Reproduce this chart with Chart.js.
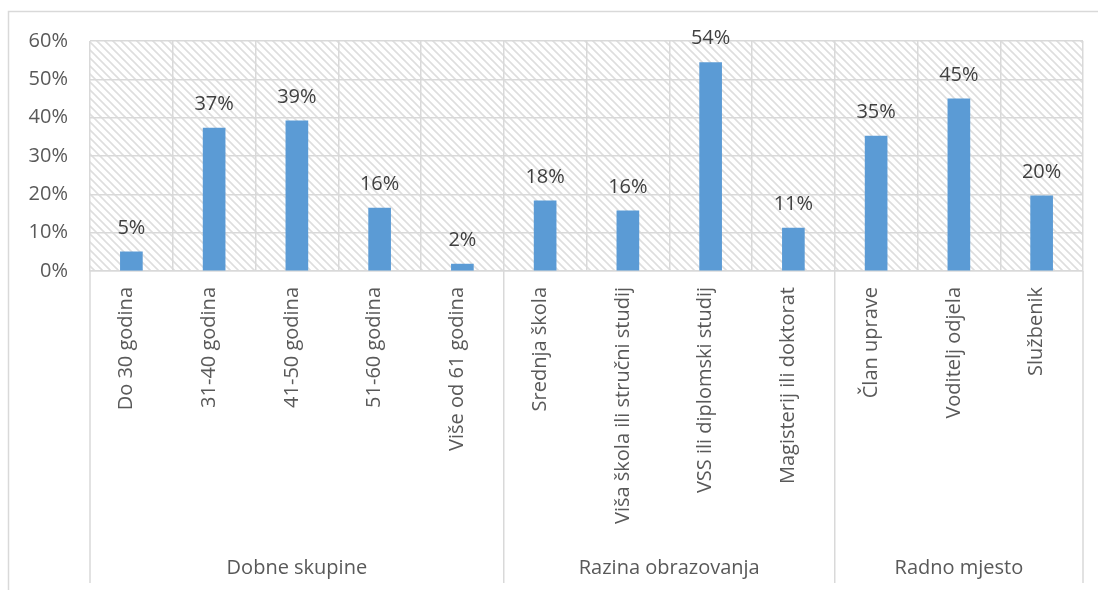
<!DOCTYPE html>
<html>
<head>
<meta charset="utf-8">
<script src="https://cdn.jsdelivr.net/npm/chart.js@4.4.0/dist/chart.umd.min.js"></script>
<style>
  html, body { margin: 0; padding: 0; background: #fff; }
</style>
</head>
<body>
<canvas id="grafikon" width="1098" height="590"></canvas>
<script>
// podaci
const kategorije = [
  'Do 30 godina', '31-40 godina', '41-50 godina', '51-60 godina', 'Više od 61 godina',
  'Srednja škola', 'Viša škola ili stručni studij', 'VSS ili diplomski studij', 'Magisterij ili doktorat',
  'Član uprave', 'Voditelj odjela', 'Službenik'
];
const vrijednosti = [5.0, 37.3, 39.2, 16.4, 1.8, 18.3, 15.7, 54.4, 11.2, 35.2, 44.9, 19.6];
const grupe = ['Dobne skupine', 'Razina obrazovanja', 'Radno mjesto'];
const grupeBroj = [5, 4, 3];
const yTicks = [0, 10, 20, 30, 40, 50, 60];

const font = 'Open Sans';
const velicina = 20;
const sivaLinija = '#d9d9d9';

// srafura u pozadini
function napraviUzorak(ctx) {
  var n = 8;
  var c = document.createElement('canvas');
  c.width = n; c.height = n;
  var g = c.getContext('2d');
  g.fillStyle = '#fff';
  g.fillRect(0, 0, n, n);
  g.strokeStyle = '#dedede';
  g.lineWidth = 1.6;
  g.beginPath();
  g.moveTo(-1, -1); g.lineTo(n + 1, n + 1);
  g.moveTo(-2, n - 2); g.lineTo(2, n + 2);
  g.moveTo(n - 2, -2); g.lineTo(n + 2, 2);
  g.stroke();
  return ctx.createPattern(c, 'repeat');
}

const pozadina = {
  id: 'pozadina',
  beforeDraw(chart) {
    const ctx = chart.ctx, a = chart.chartArea;
    ctx.save();
    ctx.fillStyle = '#fff';
    ctx.fillRect(0, 0, chart.width, chart.height);
    ctx.strokeStyle = sivaLinija;
    ctx.lineWidth = 1.5;
    ctx.strokeRect(8.5, 11.5, chart.width + 10, chart.height + 10);
    ctx.fillStyle = napraviUzorak(ctx);
    ctx.fillRect(a.left, a.top, a.right - a.left, a.bottom - a.top);
    ctx.restore();
  }
};

const oznakeVrijednosti = {
  id: 'oznakeVrijednosti',
  afterDatasetsDraw(chart) {
    const ctx = chart.ctx;
    const meta = chart.getDatasetMeta(0);
    ctx.save();
    ctx.font = velicina + 'px ' + font;
    ctx.fillStyle = '#404040';
    ctx.textAlign = 'center';
    ctx.textBaseline = 'alphabetic';
    meta.data.forEach(function (bar, i) {
      ctx.fillText(Math.round(vrijednosti[i]) + '%', bar.x, bar.y - 18);
    });
    ctx.restore();
  }
};

const grupiranje = {
  id: 'grupiranje',
  afterDraw(chart) {
    const ctx = chart.ctx, a = chart.chartArea;
    const x = chart.scales.x;
    const sirina = (a.right - a.left) / kategorije.length;
    ctx.save();
    ctx.strokeStyle = sivaLinija;
    ctx.lineWidth = 1.5;
    ctx.font = velicina + 'px ' + font;
    ctx.fillStyle = '#595959';
    ctx.textAlign = 'center';
    ctx.textBaseline = 'middle';
    let pocetak = 0;
    const granice = [a.left];
    grupe.forEach(function (g, k) {
      const kraj = pocetak + grupeBroj[k] - 1;
      const lijevo = x.getPixelForValue(pocetak) - sirina / 2;
      const desno = x.getPixelForValue(kraj) + sirina / 2;
      granice.push(desno);
      ctx.fillText(g, (lijevo + desno) / 2, 568);
      pocetak = kraj + 1;
    });
    granice.forEach(function (gx) {
      ctx.beginPath();
      ctx.moveTo(gx, a.bottom);
      ctx.lineTo(gx, 583);
      ctx.stroke();
    });
    ctx.restore();
  }
};

new Chart(document.getElementById('grafikon'), {
  type: 'bar',
  data: {
    labels: kategorije,
    datasets: [{
      data: vrijednosti,
      backgroundColor: '#5b9bd5',
      barThickness: 22
    }]
  },
  options: {
    responsive: false,
    animation: false,
    layout: { padding: { left: 8, right: 15, top: 41, bottom: 0 } },
    plugins: { legend: { display: false }, tooltip: { enabled: false } },
    scales: {
      x: {
        grid: { offset: true, color: sivaLinija, lineWidth: 1.5, drawTicks: false },
        border: { color: sivaLinija, width: 1.5 },
        ticks: {
          autoSkip: false, minRotation: 90, maxRotation: 90, padding: 16,
          labelOffset: -5,
          font: { family: font, size: velicina }, color: '#595959'
        },
        afterFit(s) { s.height = 319; }
      },
      y: {
        min: 0, max: 60,
        afterBuildTicks(s) { s.ticks = yTicks.map(function (v) { return { value: v }; }); },
        grid: { color: sivaLinija, lineWidth: 1.5, drawTicks: false },
        border: { display: false },
        ticks: {
          padding: 22,
          font: { family: font, size: velicina }, color: '#595959',
          callback: function (v) { return v + '%'; }
        },
        afterFit(s) { s.width = 82; }
      }
    }
  },
  plugins: [pozadina, oznakeVrijednosti, grupiranje]
});
</script>
</body>
</html>
